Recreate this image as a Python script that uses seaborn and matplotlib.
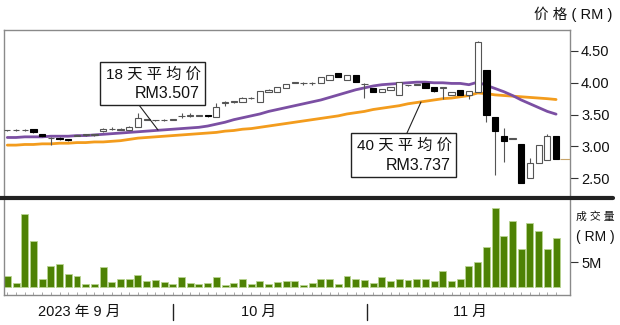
import numpy as np
import pandas as pd
import matplotlib
matplotlib.use("Agg")
import matplotlib.pyplot as plt
import seaborn as sns
from matplotlib.patches import Rectangle
from matplotlib.lines import Line2D

# ---------------- data ----------------
opens = [3.25, 3.25, 3.25, 3.27, 3.19, 3.13, 3.13, 3.11, 3.17, 3.18,
         3.18, 3.24, 3.27, 3.26, 3.26, 3.31, 3.42, 3.41, 3.41, 3.42,
         3.47, 3.48, 3.48, 3.49, 3.46, 3.69, 3.70, 3.70, 3.76, 3.70,
         3.86, 3.86, 3.92, 4.00, 3.99, 3.99, 4.00, 4.05, 4.15, 4.05,
         4.13, 3.98, 3.92, 3.86, 3.89, 3.81, 3.96, 3.97, 4.00, 3.94,
         3.92, 3.81, 3.89, 3.81, 3.86, 4.20, 3.46, 3.17, 3.12, 3.04,
         2.50, 2.74, 2.79, 3.16]
highs = [3.26, 3.27, 3.27, 3.27, 3.19, 3.14, 3.14, 3.11, 3.18, 3.19,
         3.20, 3.29, 3.30, 3.29, 3.32, 3.52, 3.43, 3.42, 3.43, 3.43,
         3.52, 3.52, 3.49, 3.49, 3.68, 3.71, 3.72, 3.77, 3.77, 3.87,
         3.90, 3.94, 3.98, 4.01, 4.01, 4.01, 4.09, 4.12, 4.15, 4.13,
         4.13, 3.99, 3.92, 3.90, 3.93, 4.01, 3.97, 3.98, 4.00, 3.94,
         3.93, 3.86, 3.89, 3.87, 4.66, 4.20, 3.46, 3.29, 3.13, 3.04,
         2.82, 3.02, 3.19, 3.16]
lows = [3.24, 3.24, 3.24, 3.21, 3.15, 3.02, 3.10, 3.09, 3.16, 3.17,
        3.17, 3.23, 3.26, 3.25, 3.25, 3.30, 3.41, 3.40, 3.40, 3.41,
        3.45, 3.46, 3.47, 3.46, 3.46, 3.64, 3.69, 3.70, 3.75, 3.70,
        3.85, 3.86, 3.92, 3.99, 3.97, 3.97, 4.00, 4.05, 4.09, 4.05,
        4.01, 3.76, 3.86, 3.86, 3.89, 3.81, 3.95, 3.96, 3.92, 3.85,
        3.74, 3.81, 3.81, 3.74, 3.86, 3.38, 2.55, 2.76, 3.11, 2.42,
        2.50, 2.74, 2.79, 2.80]
closes = [3.25, 3.25, 3.26, 3.22, 3.16, 3.13, 3.12, 3.10, 3.18, 3.18,
          3.19, 3.28, 3.28, 3.27, 3.31, 3.45, 3.42, 3.41, 3.42, 3.42,
          3.48, 3.48, 3.48, 3.47, 3.62, 3.70, 3.71, 3.76, 3.76, 3.87,
          3.89, 3.94, 3.98, 4.00, 3.99, 3.99, 4.09, 4.12, 4.09, 4.13,
          4.01, 3.98, 3.86, 3.90, 3.93, 4.01, 3.96, 3.97, 3.92, 3.87,
          3.92, 3.86, 3.81, 3.87, 4.64, 3.49, 3.24, 3.09, 3.12, 2.42,
          2.74, 3.02, 3.17, 2.80]
volume_m = [2.2, 0.9, 14.6, 9.3, 1.6, 4.2, 4.7, 2.7, 2.3, 0.7,
            0.7, 4.1, 1.1, 1.6, 1.7, 2.5, 1.3, 1.4, 1.1, 0.7,
            2.0, 0.8, 0.7, 0.9, 2.1, 0.5, 0.9, 1.6, 0.7, 1.2,
            0.7, 1.1, 1.3, 1.3, 0.5, 0.9, 1.7, 1.7, 0.7, 2.2,
            1.6, 1.5, 0.8, 2.0, 1.2, 1.6, 1.5, 1.7, 1.7, 1.3,
            3.3, 1.3, 1.7, 4.3, 5.1, 8.1, 15.8, 10.3, 13.3, 7.7,
            12.9, 11.3, 7.7, 9.9]
ma18 = [3.14, 3.14, 3.15, 3.15, 3.15, 3.16, 3.16, 3.16, 3.17, 3.17,
        3.18, 3.19, 3.20, 3.21, 3.22, 3.23, 3.24, 3.25, 3.26, 3.27,
        3.28, 3.29, 3.30, 3.32, 3.35, 3.38, 3.42, 3.45, 3.48, 3.51,
        3.55, 3.58, 3.61, 3.64, 3.67, 3.70, 3.73, 3.77, 3.81, 3.85,
        3.89, 3.92, 3.95, 3.97, 3.98, 3.99, 4.00, 4.01, 4.01, 4.00,
        4.00, 3.99, 3.99, 3.97, 4.01, 3.96, 3.91, 3.86, 3.80, 3.73,
        3.67, 3.61, 3.55, 3.507]
ma40 = [3.02, 3.02, 3.03, 3.03, 3.04, 3.04, 3.05, 3.05, 3.06, 3.06,
        3.07, 3.07, 3.08, 3.09, 3.11, 3.13, 3.14, 3.15, 3.16, 3.17,
        3.18, 3.19, 3.20, 3.21, 3.22, 3.24, 3.25, 3.27, 3.28, 3.30,
        3.32, 3.34, 3.36, 3.38, 3.40, 3.42, 3.44, 3.46, 3.48, 3.51,
        3.53, 3.55, 3.58, 3.60, 3.62, 3.64, 3.67, 3.69, 3.71, 3.73,
        3.75, 3.76, 3.78, 3.80, 3.84, 3.83, 3.81, 3.80, 3.79, 3.78,
        3.77, 3.76, 3.75, 3.737]
price_ticks = [2.50, 3.00, 3.50, 4.00, 4.50]
price_tick_labels = ["2.50", "3.00", "3.50", "4.00", "4.50"]
vol_ticks = [5]
vol_tick_labels = ["5M"]
month_labels = ["2023 年 9 月", "10 月", "11 月"]
month_label_pos = [8.3, 28.8, 53.1]
month_sep_pos = [19.0, 41.3]
ma18_label = ["18 天 平 均 价", "RM3.507"]
ma40_label = ["40 天 平 均 价", "RM3.737"]

idx = np.arange(len(closes))
df = pd.DataFrame({"i": idx, "open": opens, "high": highs, "low": lows,
                   "close": closes, "vol": volume_m, "ma18": ma18, "ma40": ma40})

# ---------------- style ----------------
sns.set_style("white")
plt.rcParams["font.family"] = ["Liberation Sans", "Noto Sans CJK SC"]

W, H = 620, 325
fig = plt.figure(figsize=(6.2, 3.25), dpi=100)

def fx(px):
    return px / W

def fy(py):
    return 1 - py / H

ax = fig.add_axes([fx(4), fy(196), fx(570) - fx(4), fy(30) - fy(196)])
axv = fig.add_axes([fx(4), fy(295), fx(570) - fx(4), fy(200) - fy(295)])

XL = (-0.38, 64.6)
frame = "#8a8a8a"

# ---------------- price panel ----------------
sns.lineplot(data=df, x="i", y="ma40", ax=ax, color="#f39c1d", lw=2.0, zorder=2)
sns.lineplot(data=df, x="i", y="ma18", ax=ax, color="#7b4fa3", lw=2.0, zorder=2)

up = df["close"] >= df["open"]
ax.vlines(df["i"], df["low"], df["high"], color="#555555", lw=0.8, zorder=3)
body_lo = np.minimum(df["open"], df["close"])
body_h = np.maximum(np.abs(df["close"] - df["open"]), 0.008)
ax.bar(df["i"][up], body_h[up], bottom=body_lo[up], width=0.72,
       facecolor="white", edgecolor="#555555", lw=0.8, zorder=4)
ax.bar(df["i"][~up], body_h[~up], bottom=body_lo[~up], width=0.72,
       facecolor="black", edgecolor="black", lw=0.8, zorder=4)
ax.hlines(closes[-1], len(closes) - 0.6, XL[1], color="#c8a46a", lw=0.8, zorder=3)

ax.set_xlim(*XL)
ax.set_ylim(2.22, 4.83)
ax.set_xlabel("")
ax.set_ylabel("")
ax.set_xticks([])
ax.yaxis.tick_right()
ax.set_yticks(price_ticks)
ax.set_yticklabels(price_tick_labels)
ax.tick_params(axis="y", right=True, direction="out", length=6, width=0.8,
               color="#333333", pad=2, labelsize=10.5, labelcolor="#111111")
for s in ["top", "left", "right"]:
    ax.spines[s].set_color(frame)
    ax.spines[s].set_linewidth(1.0)
ax.spines["bottom"].set_visible(False)

# ---------------- volume panel ----------------
sns.barplot(data=df, x="i", y="vol", ax=axv, native_scale=True, width=0.8,
            color="#4e8204", saturation=1, edgecolor="#b9d491", linewidth=0.6,
            errorbar=None)
axv.set_xlim(*XL)
axv.set_ylim(-1.6, 17.4)
axv.set_xlabel("")
axv.set_ylabel("")
axv.yaxis.tick_right()
axv.set_yticks(vol_ticks)
axv.set_yticklabels(vol_tick_labels)
axv.tick_params(axis="y", right=True, direction="out", length=6, width=0.8,
                color="#333333", pad=2, labelsize=10.5, labelcolor="#111111")
axv.set_xticks(idx)
axv.set_xticklabels([])
axv.tick_params(axis="x", bottom=True, direction="in", length=2, width=0.6,
                color="#999999")
axv.spines["top"].set_visible(False)
for s in ["left", "right", "bottom"]:
    axv.spines[s].set_color(frame)
    axv.spines[s].set_linewidth(1.0)

# ---------------- separators & labels ----------------
fig.add_artist(Line2D([0, fx(613)], [fy(198), fy(198)], color="#222222", lw=3.0))

fig.text(fx(612), fy(14), "价 格 ( RM )", ha="right", va="center", fontsize=10.5, color="#111111")
fig.text(fx(576), fy(217), "成 交 量", ha="left", va="center", fontsize=7.8, color="#111111")
fig.text(fx(576), fy(237), "( RM )", ha="left", va="center", fontsize=10, color="#111111")

xt = axv.get_xaxis_transform()
for lab, pos in zip(month_labels, month_label_pos):
    axv.text(pos, -0.18, lab, transform=xt, ha="center", va="center",
             fontsize=10.5, color="#111111")
for pos in month_sep_pos:
    axv.plot([pos, pos], [-0.095, -0.26], transform=xt,
             color="#222222", lw=1.0, clip_on=False)

# annotation boxes
def label_box(x0, y0, x1, y1, lines, lx0, ly0, lx1, ly1):
    fig.add_artist(Rectangle((fx(x0), fy(y1)), fx(x1) - fx(x0), fy(y0) - fy(y1),
                             facecolor="white", edgecolor="#222222", lw=1.0, zorder=10))
    fig.text(fx(x0 + 6), fy(y0 + 13), lines[0], ha="left", va="center",
             fontsize=11, color="#111111", zorder=11)
    fig.text(fx(x1 - 5), fy(y1 - 12), lines[1], ha="right", va="center",
             fontsize=11.5, color="#111111", zorder=11)
    fig.add_artist(Line2D([fx(lx0), fx(lx1)], [fy(ly0), fy(ly1)], color="#222222",
                          lw=0.8, zorder=9))

label_box(100, 62, 205, 105, ma18_label, 139, 105, 158, 130)
label_box(351, 133, 456, 177, ma40_label, 407, 133, 421, 102)

fig.savefig("out.png", dpi=100)
